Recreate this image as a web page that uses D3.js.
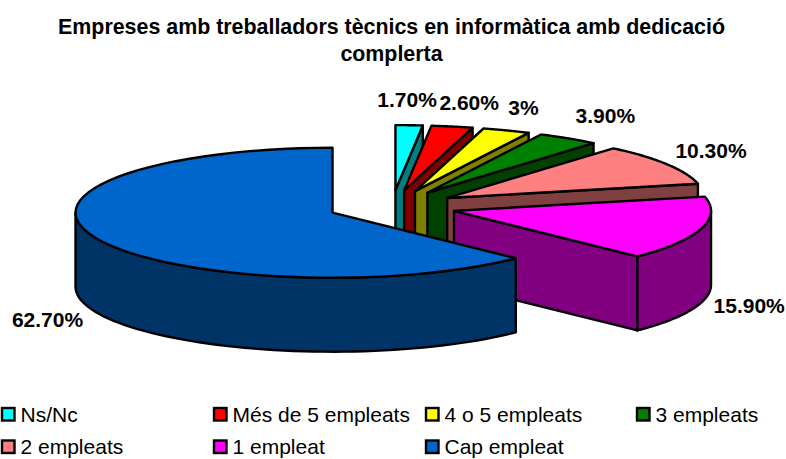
<!DOCTYPE html>
<html><head><meta charset="utf-8">
<script src="https://cdnjs.cloudflare.com/ajax/libs/d3/7.8.5/d3.min.js"></script>
<style>html,body{margin:0;padding:0;background:#fff}svg{display:block;font-family:"Liberation Sans",Arial,sans-serif}</style>
</head><body><svg id="c" width="786" height="459"></svg>
<script>
const categories=["Ns/Nc","Més de 5 empleats","4 o 5 empleats","3 empleats","2 empleats","1 empleat","Cap empleat"];
const values=[1.7,2.6,3,3.9,10.3,15.9,62.7];
const valueLabels=["1.70%","2.60%","3%","3.90%","10.30%","15.90%","62.70%"];
const topColors=["#00FFFF","#FF0000","#FFFF00","#008000","#FF8080","#FF00FF","#0066CC"];
const sideColors=["#008080","#800000","#808000","#004000","#804040","#800080","#003366"];
const titleLines=["Empreses amb treballadors tècnics en informàtica amb dedicació","complerta"];
const labelNudge=[[-2,-25],[17,-23],[17,-22],[37,-22],[44,-13],[48,78],[-48,82]];
const legendCols=[2,214,426,637], legendRows=[421.5,454];

const svg=d3.select("#c");
const cx=392, cy=206.4, rx=257, ry=65, depth=74, explode=64.5;
const pie=d3.pie().sort(null)(values);
const pt=(a,r=1,o=[cx,cy])=>[o[0]+Math.sin(a)*rx*r,o[1]-Math.cos(a)*ry*r];
const line=d3.line();
const sample=(a0,a1,apex,dy=0)=>d3.range(0,61).map(i=>{
  const a=a0+(a1-a0)*i/60,p=pt(a,1,apex);return [p[0],p[1]+dy];});

const g=svg.append("g").attr("stroke","#000").attr("stroke-width",2.4).attr("stroke-linejoin","round");
pie.forEach((d,i)=>{
  const mid=(d.startAngle+d.endAngle)/2;
  const apex=pt(mid,explode/rx);
  const e=pt(d.endAngle,1,apex);
  if(d.endAngle<Math.PI){
    g.append("path").attr("fill",sideColors[i]).attr("d",line([apex,e,[e[0],e[1]+depth],[apex[0],apex[1]+depth]])+"Z");
  }
  const w0=Math.max(d.startAngle,Math.PI/2), w1=Math.min(d.endAngle,Math.PI*1.5);
  if(w1>w0){
    g.append("path").attr("fill",sideColors[i])
     .attr("d",line(sample(w0,w1,apex).concat(sample(w1,w0,apex,depth)))+"Z");
  }
  g.append("path").attr("fill",topColors[i])
   .attr("d",line([apex].concat(sample(d.startAngle,d.endAngle,apex)))+"Z");
});

const lab=svg.append("g").attr("font-weight","bold").attr("font-size",21).attr("fill","#000").attr("text-anchor","middle");
pie.forEach((d,i)=>{
  const mid=(d.startAngle+d.endAngle)/2;
  const o=pt(mid,1,pt(mid,explode/rx));
  lab.append("text").attr("x",o[0]+labelNudge[i][0]).attr("y",o[1]+labelNudge[i][1]).attr("dy","0.32em").text(valueLabels[i]);
});

svg.append("g").attr("font-weight","bold").attr("font-size",21.4).attr("text-anchor","middle")
 .selectAll("text").data(titleLines).join("text").attr("x",391.5).attr("y",(d,i)=>34+i*27).text(d=>d);

const leg=svg.append("g");
categories.forEach((c,i)=>{
  const x=legendCols[i%4],y=legendRows[Math.floor(i/4)];
  leg.append("rect").attr("x",x).attr("y",y-13.5).attr("width",12.5).attr("height",12.5).attr("fill",topColors[i]).attr("stroke","#000").attr("stroke-width",2.4);
  leg.append("text").attr("x",x+18.5).attr("y",y).attr("font-size",21).text(c);
});
</script></body></html>
